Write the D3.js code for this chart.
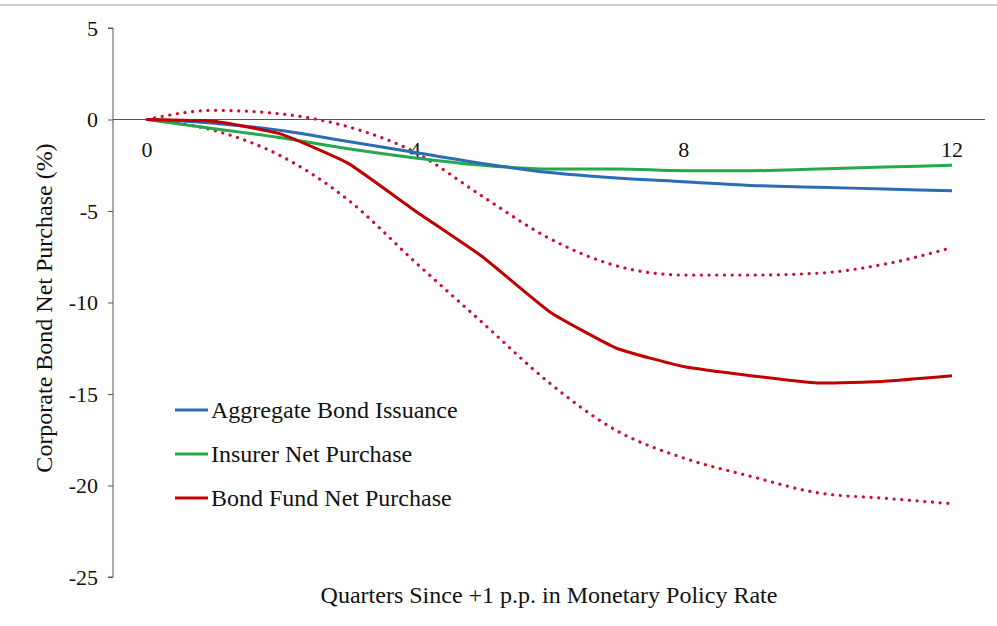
<!DOCTYPE html>
<html><head><meta charset="utf-8">
<script src="https://cdn.jsdelivr.net/npm/d3@7"></script>
<style>body{margin:0;background:#fff;}svg{display:block;font-family:"Liberation Serif","Times New Roman",serif;}</style>
</head><body>
<script>
const quarters = [0,1,2,3,4,5,6,7,8,9,10,11,12];
const aggregateIssuance = [0,-0.2,-0.6,-1.2,-1.8,-2.4,-2.9,-3.2,-3.4,-3.6,-3.7,-3.8,-3.9];
const insurerPurchase = [0,-0.5,-1.0,-1.6,-2.1,-2.5,-2.7,-2.7,-2.8,-2.8,-2.7,-2.6,-2.5];
const fundPurchase = [0,-0.1,-0.8,-2.4,-5.0,-7.5,-10.5,-12.5,-13.5,-14.0,-14.4,-14.3,-14.0];
const fundUpper = [0,0.5,0.3,-0.4,-1.8,-4.2,-6.5,-8.0,-8.5,-8.5,-8.4,-7.9,-7.0];
const fundLower = [0,-0.6,-2.0,-4.4,-7.8,-11.1,-14.4,-17.0,-18.5,-19.5,-20.4,-20.7,-21.0];
const xTicks = [0,4,8,12];
const yTicks = [5,0,-5,-10,-15,-20,-25];
const legendLabels = ["Aggregate Bond Issuance","Insurer Net Purchase","Bond Fund Net Purchase"];
const colors = {blue:"#2a6db5", green:"#25a84e", red:"#c00000", dot:"#cc1030"};

const W=997,H=626;
const svg=d3.select("body").append("svg").attr("width",W).attr("height",H);
svg.append("line").attr("x1",0).attr("x2",W).attr("y1",5).attr("y2",5).attr("stroke","#cfcfcf").attr("stroke-width",2);

const x=d3.scaleLinear().domain([0,12]).range([147,952]);
const y=d3.scaleLinear().domain([-25,5]).range([577,28]);
const axisX=113;

// y axis
const yAxis=svg.append("g").attr("transform",`translate(${axisX},0)`)
  .call(d3.axisLeft(y).tickValues(yTicks).tickSize(5).tickPadding(10).tickFormat(d=>String(d)));
yAxis.select(".domain").attr("stroke","#555").attr("d",`M-5,${y(5)}H0V${y(-25)}H-5`);
yAxis.selectAll(".tick line").attr("stroke","#555");
yAxis.selectAll("text").attr("font-size",22).attr("fill","#111").attr("font-family","Liberation Serif, serif");

// x axis at y=0
svg.append("line").attr("x1",axisX).attr("x2",985).attr("y1",y(0)).attr("y2",y(0)).attr("stroke","#555").attr("stroke-width",1.2);
svg.append("g").selectAll("text").data(xTicks).join("text")
  .attr("x",d=>x(d)).attr("y",y(0)+37).attr("text-anchor","middle")
  .attr("font-size",22).attr("fill","#111").text(d=>d);

const smooth=d3.line().x((d,i)=>x(quarters[i])).y(d=>y(d)).curve(d3.curveMonotoneX);
const semi=d3.line().x((d,i)=>x(quarters[i])).y(d=>y(d)).curve(d3.curveCardinal.tension(0.6));

function drawLine(data,color,dotted,gen){
  const p=svg.append("path").datum(data).attr("d",gen).attr("fill","none").attr("stroke",color);
  if(dotted){p.attr("stroke-width",3.2).attr("stroke-dasharray","0.1,7.6").attr("stroke-linecap","round");}
  else{p.attr("stroke-width",3).attr("stroke-linejoin","round");}
}
drawLine(fundUpper,colors.dot,true,smooth);
drawLine(fundLower,colors.dot,true,smooth);
drawLine(insurerPurchase,colors.green,false,smooth);
drawLine(aggregateIssuance,colors.blue,false,smooth);
drawLine(fundPurchase,colors.red,false,semi);

// legend
const legColors=[colors.blue,colors.green,colors.red];
const leg=svg.append("g");
legendLabels.forEach((t,i)=>{
  const ly=410+i*44;
  leg.append("line").attr("x1",175).attr("x2",208).attr("y1",ly).attr("y2",ly).attr("stroke",legColors[i]).attr("stroke-width",3);
  leg.append("text").attr("x",211).attr("y",ly+8).attr("font-size",24).attr("fill","#111").text(t);
});

// axis titles
svg.append("text").attr("x",549).attr("y",603).attr("text-anchor","middle").attr("font-size",24).attr("fill","#111")
  .text("Quarters Since +1 p.p. in Monetary Policy Rate");
svg.append("text").attr("transform","translate(52,308) rotate(-90)").attr("text-anchor","middle").attr("font-size",24).attr("fill","#111")
  .text("Corporate Bond Net Purchase (%)");
</script>
</body></html>
